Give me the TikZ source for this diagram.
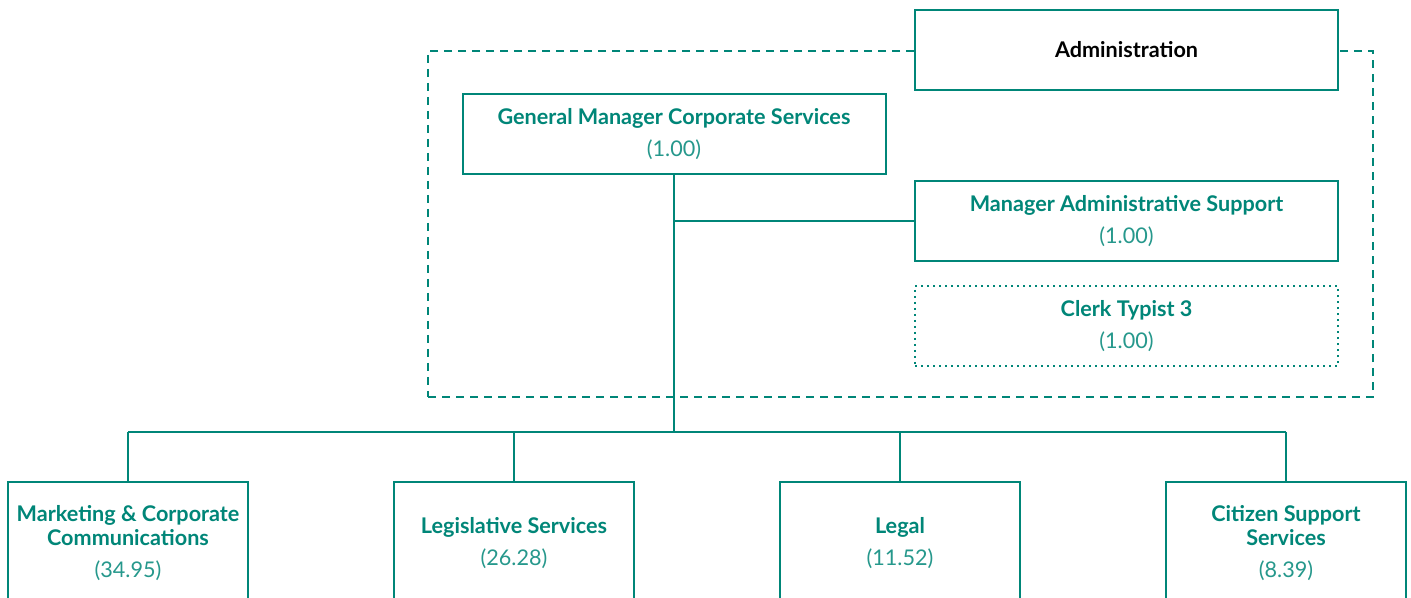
\documentclass[tikz,border=0pt]{standalone}
\usepackage{fontspec}
\setmainfont{Lato}
\usepackage{tikz}
\usetikzlibrary{positioning}
\definecolor{orgteal}{RGB}{0,134,120}
\tikzset{
  unitbox/.style={
    draw=orgteal,
    line width=1pt,
    fill=white,
    text=orgteal,
    align=center,
    inner sep=0pt,
    minimum width=211.5pt,
    minimum height=40pt,
    font=\fontsize{10.8}{12}\selectfont
  },
  deptbox/.style={
    unitbox,
    minimum width=120pt,
    minimum height=61pt
  },
  vacantbox/.style={
    unitbox,
    dash pattern=on 0.8pt off 2.2pt
  },
  groupframe/.style={
    draw=orgteal,
    line width=1pt,
    dash pattern=on 4pt off 3pt,
    minimum width=472.5pt,
    minimum height=173pt
  },
  link/.style={
    draw=orgteal,
    line width=1pt
  }
}

\begin{document}
\begin{tikzpicture}

\useasboundingbox (0,0) rectangle (705.5pt,-299pt);
\clip (0,0) rectangle (705.5pt,-299pt);

% Administration group
\node [groupframe] (admingroup) at (450.25pt,-112pt) {};

\node [unitbox,
    text=black
] (admin) at (563.25pt,-25pt) {\textbf{Administration}};

\node [unitbox,
    below=44.5pt of admin
] (mas) {\textbf{Manager Administrative Support}\\[4pt]{\color{orgteal!85}(1.00)}};

\node [vacantbox,
    below=11.5pt of mas
] (clerk) {\textbf{Clerk Typist 3}\\[4pt]{\color{orgteal!85}(1.00)}};

\node [unitbox,
] (gm) at (337pt,-67pt) {\textbf{General Manager Corporate Services}\\[4pt]{\color{orgteal!85}(1.00)}};

% Departments
\node [deptbox] (mkt) at (64pt,-271.5pt)
    {\textbf{Marketing \& Corporate}\\\textbf{Communications}\\[4pt]{\color{orgteal!85}(34.95)}};

\node [deptbox,
    right=72pt of mkt
] (leg) {\textbf{Legislative Services}\\[4pt]{\color{orgteal!85}(26.28)}};

\node [deptbox,
    right=72pt of leg
] (legal) {\textbf{Legal}\\[4pt]{\color{orgteal!85}(11.52)}};

\node [deptbox,
    right=72pt of legal
] (citizen) {\textbf{Citizen Support}\\\textbf{Services}\\[4pt]{\color{orgteal!85}(8.39)}};

% Connectors
\coordinate (bus) at (0,-216pt);
\draw[link] (gm.south) -- (gm.south |- bus);
\draw[link] (gm.south |- mas.west) -- (mas.west);
\draw[link] (mkt.north |- bus) -- (citizen.north |- bus);
\foreach \dept in {mkt, leg, legal, citizen}
  \draw[link] (\dept.north) -- (\dept.north |- bus);

\end{tikzpicture}
\end{document}
